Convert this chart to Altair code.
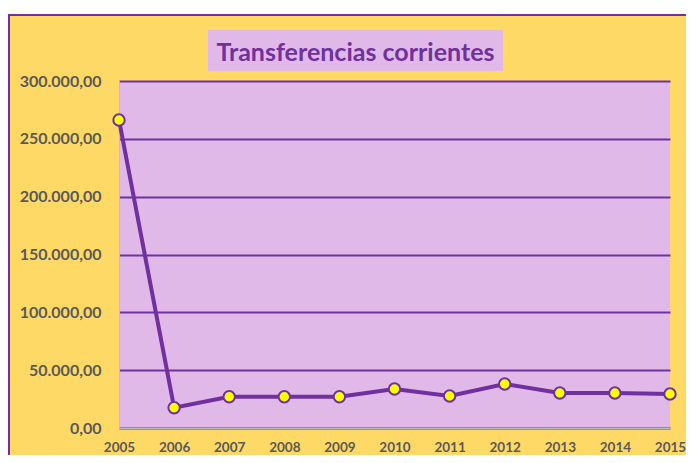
import altair as alt
import pandas as pd

years = ["2005", "2006", "2007", "2008", "2009", "2010", "2011", "2012", "2013", "2014", "2015"]
values = [266300, 17550, 27060, 27060, 27060, 33720, 27670, 38040, 30260, 30260, 29400]
title_text = "Transferencias corrientes"
y_ticks = [0, 50000, 100000, 150000, 200000, 250000, 300000]

PURPLE = "#7030A0"
YELLOW = "#FFD966"
LILAC = "#E0B9E9"
GRAY = "#595959"

W, H = 551, 347
PAD = {"left": 111, "top": 73, "right": 16, "bottom": 27}

df = pd.DataFrame({"year": years, "value": values})
one = pd.DataFrame({"a": [0]})

x_enc = alt.X(
    "year:O",
    scale=alt.Scale(type="point", padding=0),
    axis=alt.Axis(
        title=None, labelAngle=0, ticks=False, labelPadding=12,
        labelFont="Lato", labelFontWeight="bold", labelFontSize=13.5, labelColor=GRAY,
        domainColor="#BFBFBF", domainWidth=1, grid=False,
    ),
)
y_enc = alt.Y(
    "value:Q",
    scale=alt.Scale(domain=[0, 300000], nice=False),
    axis=alt.Axis(
        title=None, values=y_ticks, format=",.2f", ticks=False, labelPadding=18,
        labelFont="Lato", labelFontWeight="bold", labelFontSize=16, labelColor=GRAY,
        domainColor="#BFBFBF", domainWidth=1,
        grid=True, gridColor=PURPLE, gridWidth=2,
    ),
)

line = alt.Chart(df).mark_line(color=PURPLE, strokeWidth=4).encode(x=x_enc, y=y_enc)
points = alt.Chart(df).mark_point(
    filled=True, fill="#FFFF00", stroke=PURPLE, strokeWidth=2, size=130, opacity=1
).encode(x="year:O", y="value:Q")

# decorations: white band above chart frame, purple frame lines, title box
white_band = alt.Chart(one).mark_rect(color="white").encode(
    x=alt.value(-PAD["left"]), x2=alt.value(W + PAD["right"]),
    y=alt.value(-PAD["top"]), y2=alt.value(-67),
)
top_rule = alt.Chart(one).mark_rule(color=PURPLE, strokeWidth=2).encode(
    x=alt.value(-PAD["left"]), x2=alt.value(W + PAD["right"]), y=alt.value(-66),
)
left_rule = alt.Chart(one).mark_rule(color=PURPLE, strokeWidth=2).encode(
    x=alt.value(-PAD["left"] + 1), y=alt.value(-67), y2=alt.value(H + PAD["bottom"]),
)
title_box = alt.Chart(one).mark_rect(color=LILAC).encode(
    x=alt.value(89), x2=alt.value(384), y=alt.value(-51), y2=alt.value(-10),
)
title = alt.Chart(one).mark_text(
    text=title_text, font="Lato", fontWeight="bold", fontSize=25, color=PURPLE,
    align="center", baseline="alphabetic",
).encode(x=alt.value(236.5), y=alt.value(-20))

chart = alt.layer(
    white_band, top_rule, left_rule, title_box, title, line, points
).properties(
    width=W, height=H,
    autosize=alt.AutoSizeParams(type="none"),
    padding=PAD,
    background=YELLOW,
).configure(
    locale=alt.Locale(number=alt.NumberLocale(
        decimal=",", thousands=".", grouping=[3], currency=["", " €"]
    )),
    view=alt.ViewConfig(fill=LILAC, stroke=None),
)

chart.save("out.html", embed_options={"renderer": "svg", "actions": False})
